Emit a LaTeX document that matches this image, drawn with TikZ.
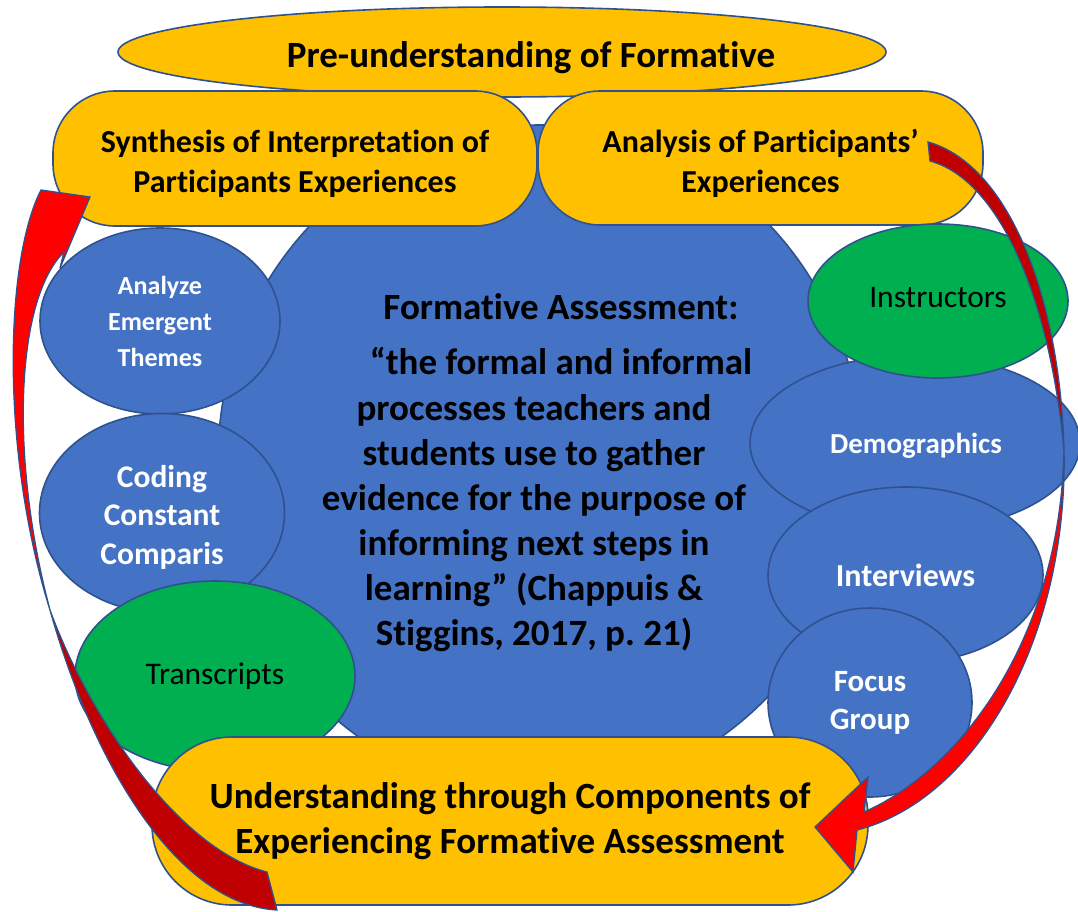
\documentclass[tikz,border=0pt]{standalone}
\usepackage{fontspec}
\setmainfont{Carlito}[RawFeature={-liga;-clig;-calt;-rlig;-dlig}]
\usetikzlibrary{shapes.geometric}
\frenchspacing

\definecolor{gold}{HTML}{FFC000}
\definecolor{blueblob}{HTML}{4472C4}
\definecolor{greenblob}{HTML}{00B050}
\definecolor{rimblue}{HTML}{2F528F}
\definecolor{redfront}{HTML}{FF0000}
\definecolor{redback}{HTML}{C00000}

\tikzset{
    rim/.style={draw=rimblue, line width=1.6pt},
    blob/.style={rim, ellipse, fill=#1, inner sep=0pt, align=center},
    pill/.style={rim, rectangle, fill=gold, inner sep=0pt, align=center},
    hugetxt/.style={font=\fontsize{37}{45}\selectfont\bfseries},
    pilltxt/.style={font=\fontsize{32}{40}\selectfont\bfseries},
    whitetxt/.style 2 args={text=white, font=\fontsize{#1}{#2}\selectfont\bfseries},
    plaintxt/.style={font=\fontsize{31.5}{38}\selectfont},
    arrowback/.style={rim, line width=1.3pt, fill=redback},
    arrowfront/.style={rim, line width=1.3pt, fill=redfront}
}

\begin{document}
\begin{tikzpicture}[x=1pt, y=-1pt]

    \useasboundingbox (0,0) rectangle (1078,911);

    % Banner across the top
    \node[blob=gold, minimum width=768pt, minimum height=90pt] (pre) at (502,52) {};
    \node[hugetxt] (pretext) at (531,58) {Pre-understanding of Formative};

    % Definition in the middle
    \node[blob=blueblob, minimum width=644pt, minimum height=670pt] (core) at (540,460) {};
    \node[hugetxt, align=center] (corehead) at (561,334) {Formative Assessment:\\[10pt]“the formal and informal};
    \node[hugetxt, align=center] (corequote) at (534,523) {processes teachers and\\students use to gather\\evidence for the purpose of\\informing next steps in\\learning” (Chappuis \&\\Stiggins, 2017, p. 21)};

    % Synthesis and analysis pills
    \node[pill, rounded corners=62pt, minimum width=484pt, minimum height=135pt] (synthesis) at (295,158.5) {};
    \node[pilltxt, align=center] (synthtext) at (295,163.5) {Synthesis of Interpretation of\\Participants Experiences};
    \node[pill, rounded corners=62pt, minimum width=445pt, minimum height=134pt] (analysis) at (760.5,158) {};
    \node[pilltxt, align=center] (analysistext) at (760.5,163) {Analysis of Participants’\\Experiences};

    % Left column
    \node[blob=blueblob, whitetxt={26}{36}, minimum width=240pt, minimum height=186pt] (themes) at (160,321) {Analyze\\Emergent\\Themes};
    \node[blob=blueblob, minimum width=245pt, minimum height=199pt] (coding) at (162,513) {};
    \node[whitetxt={31.5}{38.5}, align=center] (codingtext) at (162,517) {Coding\\Constant\\Comparis};
    \node[blob=greenblob, plaintxt, minimum width=280pt, minimum height=190pt] (transcripts) at (215,676) {Transcripts};

    % Right column
    \node[blob=blueblob, minimum width=330pt, minimum height=176pt] (demographics) at (915,443) {};
    \node[whitetxt={29}{35}] (demotext) at (916,446) {Demographics};
    \node[blob=greenblob, minimum width=260pt, minimum height=154pt] (instructors) at (938,301) {};
    \node[plaintxt] (instrtext) at (938,298) {Instructors};
    \node[blob=blueblob, whitetxt={32}{39}, minimum width=275pt, minimum height=176pt] (interviews) at (905.5,575) {Interviews};
    \node[blob=blueblob, whitetxt={31}{38}, minimum width=204pt, minimum height=189pt] (focus) at (870,702.5) {Focus\\Group};

    % Bottom pill
    \node[pill, hugetxt, rounded corners=80pt, minimum width=716pt, minimum height=168pt] (understanding) at (510,821) {Understanding through Components of\\Experiencing Formative Assessment};

    % Curved arrow up the left side
    \coordinate (ltwist) at (50,610);
    \filldraw[arrowback] (267,872) .. controls (180,850) and (90,720) .. (ltwist)
        .. controls (95,770) and (180,905) .. (277,910) -- cycle;
    \filldraw[arrowfront] (ltwist) .. controls (0,450) and (5,260) .. (41,190)
        -- (90,197) -- (60,268) -- (64,252)
        .. controls (15,300) and (10,460) .. (ltwist) -- cycle;

    % Curved arrow down the right side
    \coordinate (rtwist) at (1064,450);
    \filldraw[arrowback] (928,142) .. controls (1010,165) and (1060,300) .. (rtwist)
        .. controls (1050,300) and (1000,180) .. (930,161) -- cycle;
    \filldraw[arrowfront] (rtwist) .. controls (1060,640) and (960,770) .. (864,812)
        -- (868,777) -- (815,827) -- (853,872) -- (857,830)
        .. controls (975,800) and (1068,640) .. (rtwist) -- cycle;

\end{tikzpicture}
\end{document}
